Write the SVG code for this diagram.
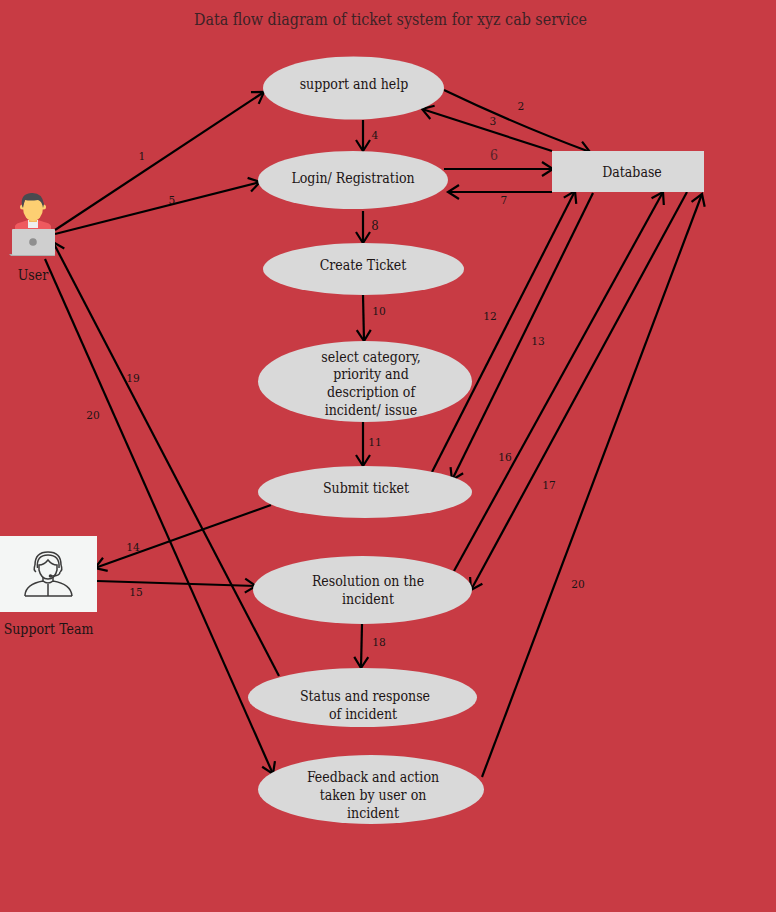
<svg xmlns="http://www.w3.org/2000/svg" width="776" height="912" viewBox="0 0 776 912">
<style>
text{font-family:"DejaVu Serif Condensed","DejaVu Serif",serif;font-stretch:condensed;fill:#1c1414;text-anchor:middle}
.l{font-size:14px}
.n{font-size:11.800px}
.t{font-size:15.900px;fill:#3d2226}
.e{fill:#d9d9d9}
.c{fill:none;stroke:#000;stroke-width:2.2}
.i{fill:none;stroke:#3b3b3b;stroke-width:1.5}
</style>
<defs>
<marker id="a" markerUnits="userSpaceOnUse" markerWidth="18" markerHeight="20" refX="14" refY="10" orient="auto">
<path d="M3 3L14 10L3 17" fill="none" stroke="#000" stroke-width="2.2"/>
</marker>
</defs>
<rect width="776" height="912" fill="#c83b44"/>
<text id="title" class="t" x="390.500" y="25">Data flow diagram of ticket system for xyz cab service</text>
<g id="connectors">
<path class="c" marker-end="url(#a)" d="M55 230L264 92"/>
<path class="c" marker-end="url(#a)" d="M55 234L260 182"/>
<path class="c" marker-end="url(#a)" d="M444 90C490 112 530 130 590 152"/>
<path class="c" marker-end="url(#a)" d="M552 151L422 109"/>
<path class="c" marker-end="url(#a)" d="M363 120V151"/>
<path class="c" marker-end="url(#a)" d="M444 169H553"/>
<path class="c" marker-end="url(#a)" d="M552 192H448"/>
<path class="c" marker-end="url(#a)" d="M363 211V243"/>
<path class="c" marker-end="url(#a)" d="M363 295L364 341"/>
<path class="c" marker-end="url(#a)" d="M363 422V466"/>
<path class="c" marker-end="url(#a)" d="M431 474L575 191"/>
<path class="c" marker-end="url(#a)" d="M593 193L452 480"/>
<path class="c" marker-end="url(#a)" d="M454 571L663 192"/>
<path class="c" marker-end="url(#a)" d="M687 192L471 590"/>
<path class="c" marker-end="url(#a)" d="M482 777L702 194"/>
<path class="c" marker-end="url(#a)" d="M271 505L95 568"/>
<path class="c" marker-end="url(#a)" d="M97 581L256 586"/>
<path class="c" marker-end="url(#a)" d="M362 624L361 668"/>
<path class="c" marker-end="url(#a)" d="M279 676L53 242"/>
<path class="c" marker-end="url(#a)" d="M45 259L273 774"/>
</g>
<g id="edge-labels">
<text class="n" x="142" y="160">1</text>
<text class="n" x="521" y="110">2</text>
<text class="n" x="493" y="125">3</text>
<text class="n" x="375" y="139">4</text>
<text class="n" x="172" y="204">5</text>
<text class="n" x="494" y="160" style="font-size:14px;fill:#5a2228">6</text>
<text class="n" x="504" y="204">7</text>
<text class="n" x="375" y="230" style="font-size:13px">8</text>
<text class="n" x="379" y="315">10</text>
<text class="n" x="375" y="446">11</text>
<text class="n" x="490" y="320">12</text>
<text class="n" x="538" y="345">13</text>
<text class="n" x="133" y="551">14</text>
<text class="n" x="136" y="596">15</text>
<text class="n" x="505" y="461">16</text>
<text class="n" x="549" y="489">17</text>
<text class="n" x="379" y="646">18</text>
<text class="n" x="133" y="382">19</text>
<text class="n" x="93" y="419">20</text>
<text class="n" x="578" y="588">20</text>
</g>
<g id="support-help"><ellipse class="e" cx="353.500" cy="88" rx="90.500" ry="31.500"/><text class="l" x="354" y="89">support and help</text></g>
<g id="login"><ellipse class="e" cx="353" cy="180" rx="95" ry="29"/><text class="l" x="353" y="183">Login/ Registration</text></g>
<g id="create-ticket"><ellipse class="e" cx="363.500" cy="269" rx="100.500" ry="26"/><text class="l" x="363" y="270">Create Ticket</text></g>
<g id="select-category"><ellipse class="e" cx="365" cy="381.500" rx="107" ry="40.500"/><text class="l" x="371" y="362">select category,</text><text class="l" x="371" y="379">priority and</text><text class="l" x="371" y="397">description of</text><text class="l" x="371" y="415">incident/ issue</text></g>
<g id="submit-ticket"><ellipse class="e" cx="365" cy="492" rx="107" ry="26"/><text class="l" x="366" y="493">Submit ticket</text></g>
<g id="resolution"><ellipse class="e" cx="362.500" cy="590" rx="109.500" ry="34"/><text class="l" x="368" y="586">Resolution on the</text><text class="l" x="368" y="604">incident</text></g>
<g id="status"><ellipse class="e" cx="362.500" cy="697.500" rx="114.500" ry="29.500"/><text class="l" x="365" y="701">Status and response</text><text class="l" x="363" y="719">of incident</text></g>
<g id="feedback"><ellipse class="e" cx="371" cy="789.500" rx="113" ry="34.500"/><text class="l" x="373" y="782">Feedback and action</text><text class="l" x="373" y="800">taken by user on</text><text class="l" x="373" y="818">incident</text></g>
<g id="database"><rect class="e" x="552" y="151" width="152" height="41"/><text class="l" x="632" y="177">Database</text></g>
<g id="user">
<path d="M15 232V226Q16 223 22 222L28 220H38L44 222Q50 223 51 226V232Z" fill="#ef5a5f"/>
<rect x="28" y="220" width="10" height="8" fill="#eeeeee"/>
<rect x="29" y="212" width="8" height="10" fill="#f5b95f"/>
<ellipse cx="33" cy="208" rx="10" ry="13" fill="#fdcf72"/>
<circle cx="22.500" cy="207" r="2.500" fill="#fdcf72"/><circle cx="43.500" cy="207" r="2.500" fill="#fdcf72"/>
<path d="M22 206Q20 194 31 193Q42 192 44 204L43 208Q42 201 38 200Q30 201 25 200Q24 203 23 208Z" fill="#4a4a4f"/>
<path d="M9 254H55V256H11Z" fill="#b0b0b0"/>
<rect x="12" y="229" width="43" height="26" rx="1" fill="#cfcfcf"/>
<circle cx="33" cy="242" r="3.800" fill="#8f8f8f"/>
<text class="l" x="33" y="280">User</text>
</g>
<g id="support-team">
<rect x="0" y="536" width="97" height="76" fill="#f4f6f5"/>
<path class="i" d="M25 596V595Q26 584 43 581V577M72 596Q71 584 53 581V577M43 581Q48 585 53 581M48 584V596M25 596H72"/>
<path class="i" d="M39 565V570Q41 579 48 579Q55 579 57 570V565Q52 565 48 560Q44 565 39 565Z"/>
<path class="i" d="M35 565Q35 552 48 552Q61 552 61 565M37.500 568Q36 555 48 555Q60 555 59 568"/>
<path class="i" d="M35 565Q33 570 36 572M61 565Q63 570 60 572M60 572Q60 576 52 576"/>
<circle cx="50.500" cy="576" r="1.800" fill="#3b3b3b"/>
<text class="l" x="48.500" y="634">Support Team</text>
</g>
</svg>
